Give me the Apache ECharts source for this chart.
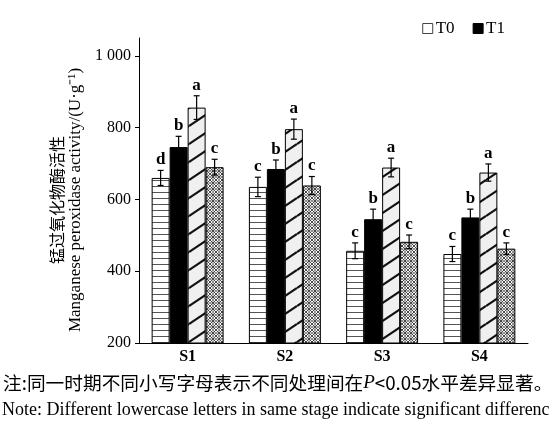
<!DOCTYPE html>
<html>
<head>
<meta charset="utf-8">
<script src="https://cdn.jsdelivr.net/npm/echarts@6/dist/echarts.min.js"></script>
<style>html,body{margin:0;padding:0;background:#fff}#c{width:549px;height:429px}</style>
</head>
<body>
<div id="c"></div>
<script>
var categories = ['S1', 'S2', 'S3', 'S4'];
var seriesNames = ['T0', 'T1', 'T2', 'T3'];
var T0 = [660, 635, 457, 448];
var T1 = [746, 685, 545, 550];
var T2 = [856, 796, 689, 675];
var T3 = [690, 639, 482, 463];
var errT0 = [21, 27, 22, 21];
var errT1 = [30, 25, 28, 23];
var errT2 = [33, 28, 26, 24];
var errT3 = [22, 25, 19, 16];
var letT0 = ['d', 'c', 'c', 'c'];
var letT1 = ['b', 'b', 'b', 'b'];
var letT2 = ['a', 'a', 'a', 'a'];
var letT3 = ['c', 'c', 'c', 'c'];
var yTicks = [200, 400, 600, 800, 1000];

var SERIF = "'Liberation Serif','Times New Roman',serif";
var CJK = "'Noto Sans CJK SC','Liberation Serif',serif";

function pat(w, h, draw) {
  var c = document.createElement('canvas');
  c.width = w; c.height = h;
  var g = c.getContext('2d');
  draw(g, w, h);
  return { image: c, repeat: 'repeat' };
}
var pT0 = pat(8, 6, function (g, w, h) {
  g.fillStyle = '#fff'; g.fillRect(0, 0, w, h);
  g.fillStyle = '#555'; g.fillRect(0, 0, w, 1);
});
var pT2 = pat(27, 18, function (g, w, h) {
  g.fillStyle = '#f0f0f0'; g.fillRect(0, 0, w, h);
  g.strokeStyle = '#111'; g.lineWidth = 2.2;
  for (var k = -1; k <= 1; k++) {
    g.beginPath(); g.moveTo(0, h + k * h); g.lineTo(w, k * h); g.stroke();
  }
});
var pT3 = pat(6, 6, function (g, w, h) {
  g.fillStyle = '#fff'; g.fillRect(0, 0, w, h);
  g.strokeStyle = '#333'; g.lineWidth = 0.9;
  g.beginPath(); g.moveTo(0, 0); g.lineTo(w, h); g.stroke();
  g.beginPath(); g.moveTo(w, 0); g.lineTo(0, h); g.stroke();
  g.fillStyle = '#222';
  g.fillRect(2.5, 0, 1, 1.5); g.fillRect(2.5, 4.5, 1, 1.5);
  g.fillRect(0, 2.5, 1.5, 1); g.fillRect(4.5, 2.5, 1.5, 1);
});

var vals = [T0, T1, T2, T3];
var errs = [errT0, errT1, errT2, errT3];
var lets = [letT0, letT1, letT2, letT3];
var fills = [pT0, '#000', pT2, pT3];
var GAP = 0.26;

var series = [];
for (var s = 0; s < 4; s++) {
  series.push({
    type: 'bar', name: seriesNames[s], data: vals[s],
    barGap: '0%', barCategoryGap: (GAP * 100) + '%',
    itemStyle: { color: fills[s], borderColor: '#000', borderWidth: 1 },
    emphasis: { disabled: true }
  });
}
for (var s2 = 0; s2 < 4; s2++) {
  (function (idx) {
    series.push({
      type: 'custom', name: 'err' + idx, z: 5, silent: true,
      data: categories.map(function (c, i) { return [i, vals[idx][i], errs[idx][i]]; }),
      renderItem: function (params, api) {
        var ci = api.value(0), v = api.value(1), e = api.value(2);
        var band = api.size([1, 0])[0];
        var bw = band * (1 - GAP) / 4;
        var cx = api.coord([ci, v])[0] + (idx - 1.5) * bw;
        var yt = api.coord([ci, v + e])[1];
        var yb = api.coord([ci, v - e])[1];
        var cap = 3;
        var st = { stroke: '#000', lineWidth: 1.2 };
        return {
          type: 'group', children: [
            { type: 'line', shape: { x1: cx, y1: yt, x2: cx, y2: yb }, style: st },
            { type: 'line', shape: { x1: cx - cap, y1: yt, x2: cx + cap, y2: yt }, style: st },
            { type: 'line', shape: { x1: cx - cap, y1: yb, x2: cx + cap, y2: yb }, style: st },
            { type: 'text', x: cx, y: yt - 2, style: {
                text: lets[idx][params.dataIndex], fill: '#000',
                font: '600 17px ' + SERIF, align: 'center', verticalAlign: 'bottom' } }
          ]
        };
      }
    });
  })(s2);
}

var chart = echarts.init(document.getElementById('c'), null, { renderer: 'canvas' });
chart.setOption({
  backgroundColor: '#fff',
  animation: false,
  grid: { left: 139, right: 21, top: 38, bottom: 86 },
  legend: {
    right: 39, top: 15, itemWidth: 10, itemHeight: 10, itemGap: 18,
    textStyle: { fontFamily: SERIF, fontSize: 17, color: '#000', padding: [0, 0, 0, -2] },
    data: [
      { name: 'T0', icon: 'rect', itemStyle: { color: '#fff', borderColor: '#444', borderWidth: 1 } },
      { name: 'T1', icon: 'rect', itemStyle: { color: '#000', borderColor: '#000', borderWidth: 1 } }
    ]
  },
  xAxis: {
    type: 'category', data: categories,
    axisLine: { lineStyle: { color: '#000', width: 1 } },
    axisTick: { inside: true, length: 3, lineStyle: { color: '#000' } },
    axisLabel: { color: '#000', fontFamily: SERIF, fontWeight: 'bold', fontSize: 16, margin: 6 }
  },
  yAxis: {
    type: 'value', min: 200, max: 1050, interval: 200,
    splitLine: { show: false },
    axisLine: { show: true, lineStyle: { color: '#000', width: 1 } },
    axisTick: { show: true, length: 4, customValues: yTicks, lineStyle: { color: '#000' } },
    axisLabel: {
      customValues: yTicks, color: '#000', fontFamily: SERIF, fontSize: 16, margin: 8,
      formatter: function (v) { return v >= 1000 ? '1 000' : String(v); }
    }
  },
  graphic: [
    { type: 'text', x: 57, y: 200, rotation: Math.PI / 2,
      style: { text: '锰过氧化物酶活性', font: '16px ' + CJK, fill: '#000', align: 'center', verticalAlign: 'middle' } },
    { type: 'text', x: 76, y: 200, rotation: Math.PI / 2,
      style: { text: 'Manganese peroxidase activity/(U·g⁻¹)', font: '17px ' + SERIF, fill: '#000', align: 'center', verticalAlign: 'middle' } },
    { type: 'text', left: 3, top: 373,
      style: { text: '注:同一时期不同小写字母表示不同处理间在{i|P}<0.05水平差异显著。', font: '18.7px ' + CJK, fill: '#000',
        rich: { i: { fontFamily: SERIF, fontStyle: 'italic', fontSize: 19 } } } },
    { type: 'text', x: 2, y: 410,
      style: { text: 'Note: Different lowercase letters in same stage indicate significant differences', font: '18px ' + SERIF, fill: '#000', verticalAlign: 'middle' } }
  ],
  series: series
});
</script>
</body>
</html>
